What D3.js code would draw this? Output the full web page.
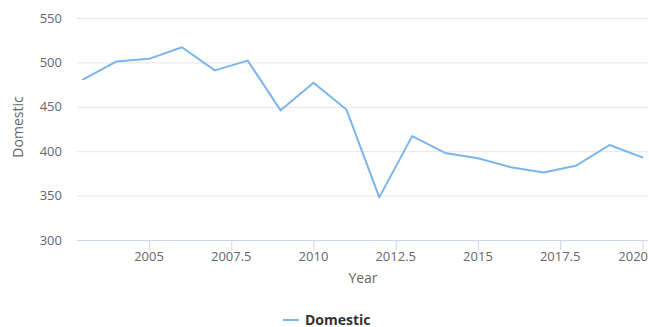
<!DOCTYPE html>
<html>
<head>
<meta charset="utf-8">
<script src="https://cdn.jsdelivr.net/npm/d3@7"></script>
<style>
  body { margin: 0; background: #fff; }
  text { font-family: "Open Sans", "Lucida Grande", sans-serif; }
</style>
</head>
<body>
<div id="chart"></div>
<script>
const years = [2003, 2004, 2005, 2006, 2007, 2008, 2009, 2010, 2011, 2012, 2013, 2014, 2015, 2016, 2017, 2018, 2019, 2020];
const domestic = [481, 501, 504, 517, 491, 502, 446, 477, 447, 348, 417, 398, 392, 382, 376, 384, 407, 393];
const xTicks = [2005, 2007.5, 2010, 2012.5, 2015, 2017.5, 2020];
const yTicks = [300, 350, 400, 450, 500, 550];

const width = 649, height = 327;
const plotLeft = 77, plotRight = 648, plotTop = 18, plotBottom = 240;

const svg = d3.select('#chart').append('svg')
    .attr('width', width)
    .attr('height', height);

const x = d3.scaleLinear()
    .domain([2002.81, 2020.17])
    .range([plotLeft, plotRight]);

const y = d3.scaleLinear()
    .domain([300, 550])
    .range([plotBottom, plotTop]);

// grid lines
svg.append('g')
    .selectAll('line')
    .data(yTicks)
    .enter()
    .append('line')
    .attr('x1', plotLeft)
    .attr('x2', plotRight)
    .attr('y1', d => y(d) + 0.5)
    .attr('y2', d => y(d) + 0.5)
    .attr('stroke', d => d === 300 ? '#ccd6eb' : '#e6e6e6')
    .attr('stroke-width', 1);

// y labels
svg.append('g')
    .selectAll('text')
    .data(yTicks)
    .enter()
    .append('text')
    .attr('x', 62)
    .attr('y', d => y(d) + 4.5)
    .attr('text-anchor', 'end')
    .attr('font-size', 13)
    .attr('fill', '#666666')
    .text(d => d);

// x ticks
svg.append('g')
    .selectAll('line')
    .data(xTicks)
    .enter()
    .append('line')
    .attr('x1', d => x(d) + 0.5)
    .attr('x2', d => x(d) + 0.5)
    .attr('y1', plotBottom)
    .attr('y2', plotBottom + 10)
    .attr('stroke', '#ccd6eb');

const xLabels = svg.append('g')
    .selectAll('text')
    .data(xTicks)
    .enter()
    .append('text')
    .attr('x', d => x(d))
    .attr('y', plotBottom + 21)
    .attr('text-anchor', 'middle')
    .attr('font-size', 13)
    .attr('fill', '#666666')
    .text(d => d);

// keep the last label inside the chart, like highcharts does
xLabels.each(function() {
    const box = this.getBBox();
    if (box.x + box.width > width - 1) {
        d3.select(this).attr('x', width - 1 - box.width / 2);
    }
});

// axis titles
svg.append('text')
    .attr('transform', `translate(23, 127) rotate(-90)`)
    .attr('text-anchor', 'middle')
    .attr('font-size', 14)
    .attr('fill', '#666666')
    .text('Domestic');

svg.append('text')
    .attr('x', 363)
    .attr('y', 283)
    .attr('text-anchor', 'middle')
    .attr('font-size', 14)
    .attr('fill', '#666666')
    .text('Year');

// series line
const line = d3.line()
    .x((d, i) => x(years[i]))
    .y(d => y(d));

svg.append('path')
    .datum(domestic)
    .attr('d', line)
    .attr('fill', 'none')
    .attr('stroke', '#7cb5ec')
    .attr('stroke-width', 2)
    .attr('stroke-linejoin', 'round')
    .attr('stroke-linecap', 'round');

// legend
const legend = svg.append('g').attr('transform', 'translate(283, 320)');
legend.append('line')
    .attr('x1', 0)
    .attr('x2', 16)
    .attr('y1', 0)
    .attr('y2', 0)
    .attr('stroke', '#7cb5ec')
    .attr('stroke-width', 2);
legend.append('text')
    .attr('x', 22)
    .attr('y', 4.5)
    .attr('font-size', 14)
    .attr('font-weight', 'bold')
    .attr('fill', '#333333')
    .text('Domestic');
</script>
</body>
</html>
